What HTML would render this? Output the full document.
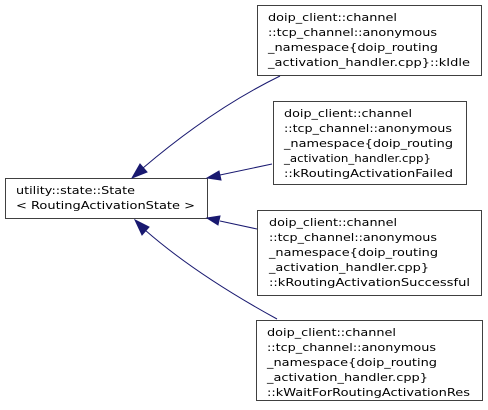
<!DOCTYPE html>
<html><head><style>
body{margin:0;background:#fff;}
svg{display:block;}
text{font-family:"DejaVu Sans","Liberation Sans",sans-serif;font-size:11px;fill:#000;}
</style></head><body>
<svg width="488" height="410" viewBox="0 0 488 410">
<g fill="#fff" stroke="#404040" stroke-width="1">
<rect x="257.5" y="5.5" width="224" height="70"/>
<rect x="273.5" y="101.5" width="193" height="83"/>
<rect x="5.5" y="178.5" width="202" height="40"/>
<rect x="257.5" y="210.5" width="224" height="85"/>
<rect x="256.5" y="320.5" width="226" height="80"/>
</g>
<g fill="none" stroke="#191970" stroke-width="1">
<path d="M280,76 C235,98 190,128 143,168"/>
<path d="M272,164 L220,175"/>
<path d="M257,229 L220,221"/>
<path d="M277,319 C235,296 185,265 145,230"/>
</g>
<g fill="#191970" stroke="#191970">
<polygon points="132,178 140,164 147,172"/>
<polygon points="207,178 219,171 221,180"/>
<polygon points="207,218 220,216 218,225"/>
<polygon points="135,220 149,227 142,235"/>
</g>
<g>
<text x="268" y="21" textLength="129" lengthAdjust="spacingAndGlyphs">doip_client::channel</text>
<text x="268" y="36" textLength="169" lengthAdjust="spacingAndGlyphs">::tcp_channel::anonymous</text>
<text x="268" y="51" textLength="170" lengthAdjust="spacingAndGlyphs">_namespace{doip_routing</text>
<text x="268" y="66" textLength="202" lengthAdjust="spacingAndGlyphs">_activation_handler.cpp}::kIdle</text>

<text x="284" y="117" textLength="128" lengthAdjust="spacingAndGlyphs">doip_client::channel</text>
<text x="284" y="132" textLength="168" lengthAdjust="spacingAndGlyphs">::tcp_channel::anonymous</text>
<text x="284" y="147" textLength="169" lengthAdjust="spacingAndGlyphs">_namespace{doip_routing</text>
<text x="284" y="162" textLength="147" lengthAdjust="spacingAndGlyphs">_activation_handler.cpp}</text>
<text x="284" y="177" textLength="169" lengthAdjust="spacingAndGlyphs">::kRoutingActivationFailed</text>

<text x="16" y="194" textLength="119" lengthAdjust="spacingAndGlyphs">utility::state::State</text>
<text x="16" y="209" textLength="179" lengthAdjust="spacingAndGlyphs">&lt; RoutingActivationState &gt;</text>

<text x="269" y="226" textLength="128" lengthAdjust="spacingAndGlyphs">doip_client::channel</text>
<text x="269" y="241" textLength="168" lengthAdjust="spacingAndGlyphs">::tcp_channel::anonymous</text>
<text x="269" y="256" textLength="169" lengthAdjust="spacingAndGlyphs">_namespace{doip_routing</text>
<text x="269" y="271" textLength="160" lengthAdjust="spacingAndGlyphs">_activation_handler.cpp}</text>
<text x="269" y="286" textLength="201" lengthAdjust="spacingAndGlyphs">::kRoutingActivationSuccessful</text>

<text x="267" y="336" textLength="129" lengthAdjust="spacingAndGlyphs">doip_client::channel</text>
<text x="267" y="351" textLength="169" lengthAdjust="spacingAndGlyphs">::tcp_channel::anonymous</text>
<text x="267" y="366" textLength="170" lengthAdjust="spacingAndGlyphs">_namespace{doip_routing</text>
<text x="267" y="381" textLength="161" lengthAdjust="spacingAndGlyphs">_activation_handler.cpp}</text>
<text x="267" y="396" textLength="203" lengthAdjust="spacingAndGlyphs">::kWaitForRoutingActivationRes</text>
</g>
</svg>
</body></html>
